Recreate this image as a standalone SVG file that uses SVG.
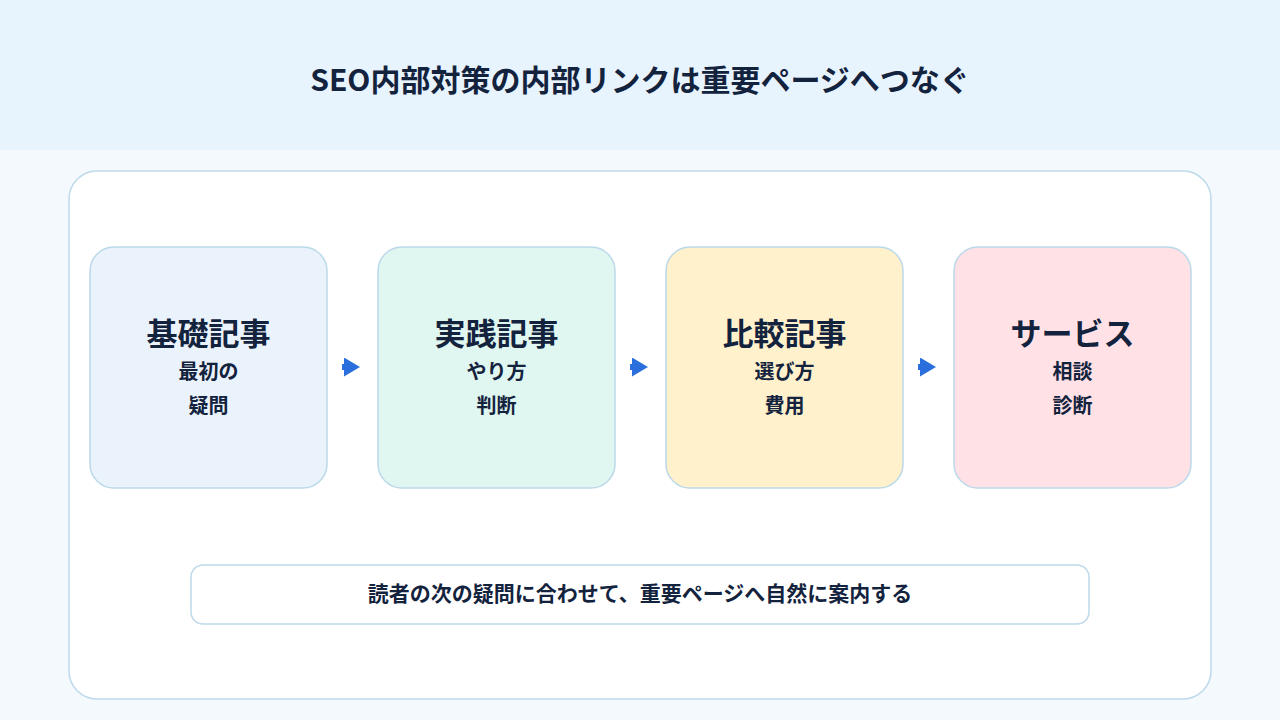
<svg xmlns="http://www.w3.org/2000/svg" width="1280" height="720" viewBox="0 0 1280 720">
<defs>
<style>
text{font-family:"Noto Sans CJK JP","Noto Sans",sans-serif;fill:#14233D;font-weight:700;text-anchor:middle}
.t{font-size:30px}
.h{font-size:31px}
.s{font-size:20px}
.n{font-size:21px}
.box{stroke:#BCD9EA;stroke-width:1.5}
</style>
<marker id="ah" viewBox="0 0 16 19" refX="0" refY="9.5" markerWidth="16" markerHeight="19" markerUnits="userSpaceOnUse" orient="auto">
<path d="M0,0 L16,9.5 L0,19 z" fill="#2A6FDB"/>
</marker>
</defs>
<rect x="0" y="0" width="1280" height="720" fill="#F4F9FD"/>
<rect x="0" y="0" width="1280" height="150" fill="#E7F4FD"/>
<text class="t" x="640" y="91">SEO内部対策の内部リンクは重要ページへつなぐ</text>
<rect x="69" y="171" width="1142" height="528" rx="28" fill="#FFFFFF" class="box"/>
<g id="node1"><rect x="90" y="247" width="237" height="241" rx="24" fill="#EAF3FC" class="box"/>
<text class="h" x="208.5" y="345">基礎記事</text><text class="s" x="208.5" y="379">最初の</text><text class="s" x="208.5" y="413">疑問</text></g>
<g id="node2"><rect x="378" y="247" width="237" height="241" rx="24" fill="#E0F6F0" class="box"/>
<text class="h" x="496.5" y="345">実践記事</text><text class="s" x="496.5" y="379">やり方</text><text class="s" x="496.5" y="413">判断</text></g>
<g id="node3"><rect x="666" y="247" width="237" height="241" rx="24" fill="#FFF1CC" class="box"/>
<text class="h" x="784.5" y="345">比較記事</text><text class="s" x="784.5" y="379">選び方</text><text class="s" x="784.5" y="413">費用</text></g>
<g id="node4"><rect x="954" y="247" width="237" height="241" rx="24" fill="#FFE1E6" class="box"/>
<text class="h" x="1072.5" y="345">サービス</text><text class="s" x="1072.5" y="379">相談</text><text class="s" x="1072.5" y="413">診断</text></g>
<g id="connectors" stroke="#2A6FDB" stroke-width="6" fill="none">
<path d="M342,367 L344,367" marker-end="url(#ah)"/>
<path d="M630,367 L632,367" marker-end="url(#ah)"/>
<path d="M918,367 L920,367" marker-end="url(#ah)"/>
</g>
<g id="note"><rect x="191" y="565" width="898" height="59" rx="12" fill="#FFFFFF" class="box"/>
<text class="n" x="640" y="601">読者の次の疑問に合わせて、重要ページへ自然に案内する</text></g>
</svg>
